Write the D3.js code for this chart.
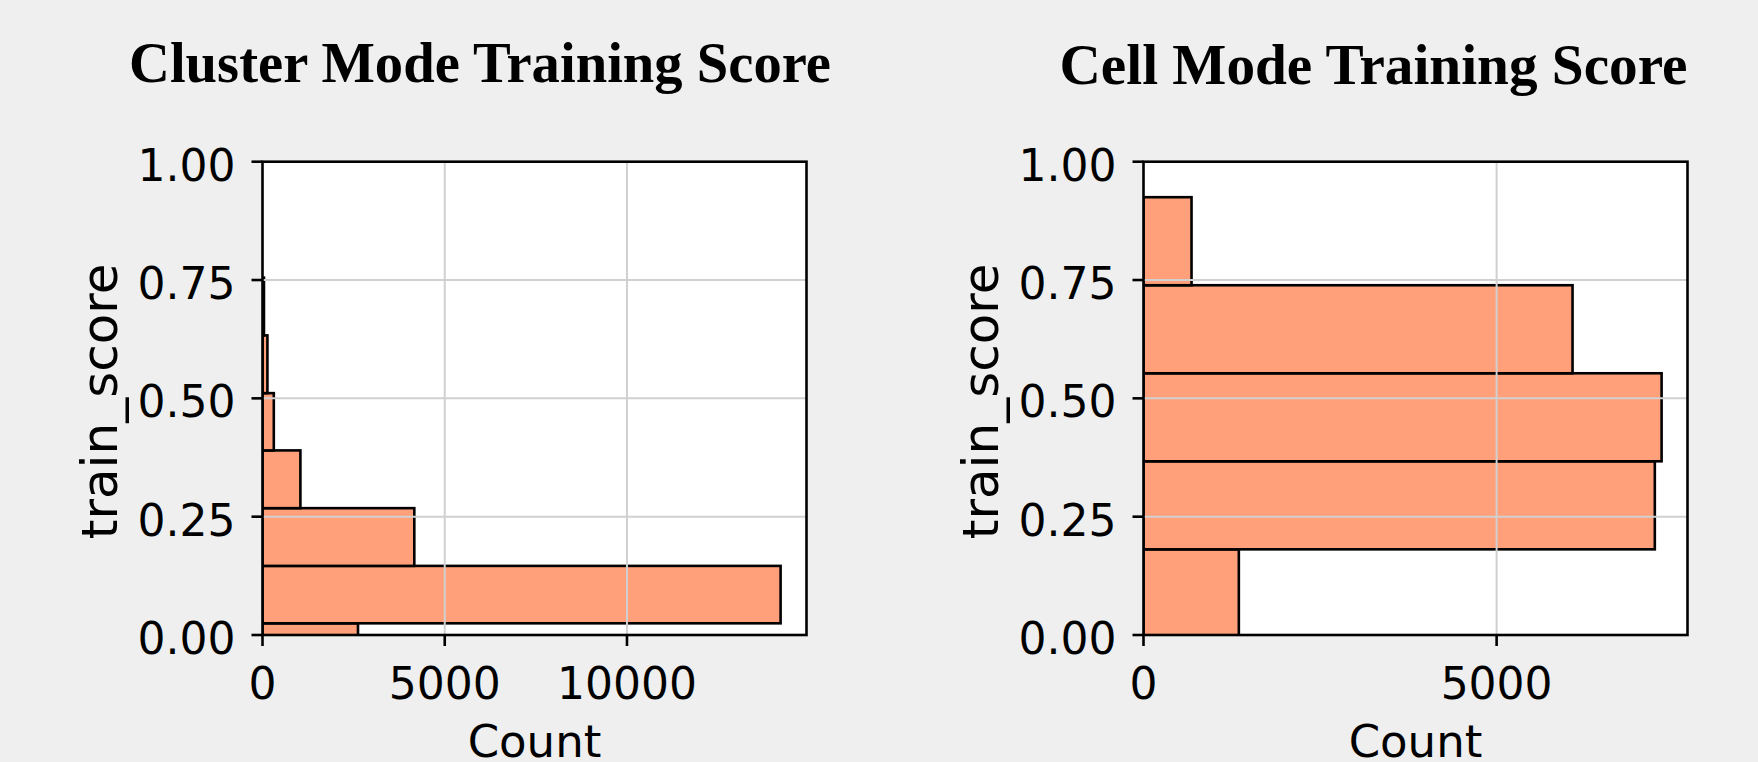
<!DOCTYPE html>
<html lang="en">
<head>
  <meta charset="UTF-8">
  <title>Training Score Histograms</title>
  <script src="https://d3js.org/d3.v7.min.js"></script>
  <style>
    body { margin: 0; background: #efefef; }
    svg { display: block; }
    .tick-label { font-family: "DejaVu Sans", sans-serif; font-size: 44px; fill: #000; }
    .axis-label { font-family: "DejaVu Sans", sans-serif; fill: #000; }
    .title { font-family: "Liberation Serif", "Times New Roman", serif; font-weight: bold; font-size: 56px; fill: #000; }
  </style>
</head>
<body>
  <svg id="chart" width="1758" height="762"></svg>
  <script>
    // histogram bins (bin edges on train_score, counts per bin)
    const clusterEdges = [-0.097, 0.0247, 0.146, 0.268, 0.390, 0.511, 0.633, 0.755];
    const clusterCounts = [2620, 14215, 4165, 1040, 310, 135, 40];
    const cellEdges = [-0.005, 0.181, 0.367, 0.553, 0.739, 0.925];
    const cellCounts = [1350, 7240, 7336, 6075, 680];

    const clusterXTicks = [0, 5000, 10000];
    const cellXTicks = [0, 5000];
    const yTicks = [0, 0.25, 0.5, 0.75, 1.0];

    const titles = ['Cluster Mode Training Score', 'Cell Mode Training Score'];

    const svg = d3.select('#chart');

    const panels = [
      { title: titles[0], edges: clusterEdges, counts: clusterCounts, xTicks: clusterXTicks,
        left: 262.5, right: 806.5, titleX: 480, titleY: 82, titleW: 702 },
      { title: titles[1], edges: cellEdges, counts: cellCounts, xTicks: cellXTicks,
        left: 1143.5, right: 1687.5, titleX: 1373.5, titleY: 84, titleW: 628 }
    ];

    const plotTop = 161.7, plotBottom = 635;
    const tickLen = 11;
    const lw = 2.6;

    panels.forEach((p, i) => {
      const x = d3.scaleLinear()
        .domain([0, d3.max(p.counts) * 1.05])
        .range([p.left, p.right]);
      const y = d3.scaleLinear().domain([0, 1]).range([plotBottom, plotTop]);

      const g = svg.append('g');

      // plot background
      g.append('rect')
        .attr('x', p.left).attr('y', plotTop)
        .attr('width', p.right - p.left).attr('height', plotBottom - plotTop)
        .attr('fill', '#ffffff');

      const clipId = 'clip' + i;
      svg.append('clipPath').attr('id', clipId)
        .append('rect')
        .attr('x', p.left).attr('y', plotTop)
        .attr('width', p.right - p.left).attr('height', plotBottom - plotTop);

      const bins = p.counts.map((c, j) => ({ y0: p.edges[j], y1: p.edges[j + 1], count: c }));

      g.append('g')
        .attr('clip-path', `url(#${clipId})`)
        .selectAll('rect')
        .data(bins)
        .enter()
        .append('rect')
        .attr('x', x(0))
        .attr('y', d => y(d.y1))
        .attr('width', d => x(d.count) - x(0))
        .attr('height', d => y(d.y0) - y(d.y1))
        .attr('fill', '#ffa07a')
        .attr('stroke', '#000')
        .attr('stroke-width', lw);

      // grid lines (drawn over bars like the original)
      const grid = g.append('g').attr('stroke', '#d0d0d0').attr('stroke-width', 2);
      grid.selectAll('.vg')
        .data(p.xTicks.filter(t => t > 0))
        .enter().append('line')
        .attr('x1', d => x(d)).attr('x2', d => x(d))
        .attr('y1', plotTop).attr('y2', plotBottom);
      grid.selectAll('.hg')
        .data(yTicks.filter(t => t > 0 && t < 1))
        .enter().append('line')
        .attr('x1', p.left).attr('x2', p.right)
        .attr('y1', d => y(d)).attr('y2', d => y(d));

      // spines
      g.append('rect')
        .attr('x', p.left).attr('y', plotTop)
        .attr('width', p.right - p.left).attr('height', plotBottom - plotTop)
        .attr('fill', 'none').attr('stroke', '#000').attr('stroke-width', lw);

      // x ticks
      const xt = g.selectAll('.xt').data(p.xTicks).enter().append('g');
      xt.append('line')
        .attr('x1', d => x(d)).attr('x2', d => x(d))
        .attr('y1', plotBottom).attr('y2', plotBottom + tickLen)
        .attr('stroke', '#000').attr('stroke-width', lw);
      xt.append('text')
        .attr('class', 'tick-label')
        .attr('x', d => x(d)).attr('y', plotBottom + 63.5)
        .attr('text-anchor', 'middle')
        .text(d => d);

      // y ticks
      const yt = g.selectAll('.yt').data(yTicks).enter().append('g');
      yt.append('line')
        .attr('x1', p.left - tickLen).attr('x2', p.left)
        .attr('y1', d => y(d)).attr('y2', d => y(d))
        .attr('stroke', '#000').attr('stroke-width', lw);
      yt.append('text')
        .attr('class', 'tick-label')
        .attr('x', p.left - 27).attr('y', d => y(d) + 19)
        .attr('text-anchor', 'end')
        .text(d => d3.format('.2f')(d));

      // axis labels
      g.append('text')
        .attr('class', 'axis-label')
        .attr('font-size', 45)
        .attr('x', (p.left + p.right) / 2).attr('y', 757)
        .attr('text-anchor', 'middle')
        .text('Count');
      g.append('text')
        .attr('class', 'axis-label')
        .attr('font-size', 50)
        .attr('transform', `translate(${p.left - 146},${(plotTop + plotBottom) / 2 + 3}) rotate(-90)`)
        .attr('text-anchor', 'middle')
        .text('train_score');

      // title
      svg.append('text')
        .attr('class', 'title')
        .attr('x', p.titleX).attr('y', p.titleY)
        .attr('text-anchor', 'middle')
        .attr('textLength', p.titleW)
        .attr('lengthAdjust', 'spacingAndGlyphs')
        .text(p.title);
    });
  </script>
</body>
</html>
